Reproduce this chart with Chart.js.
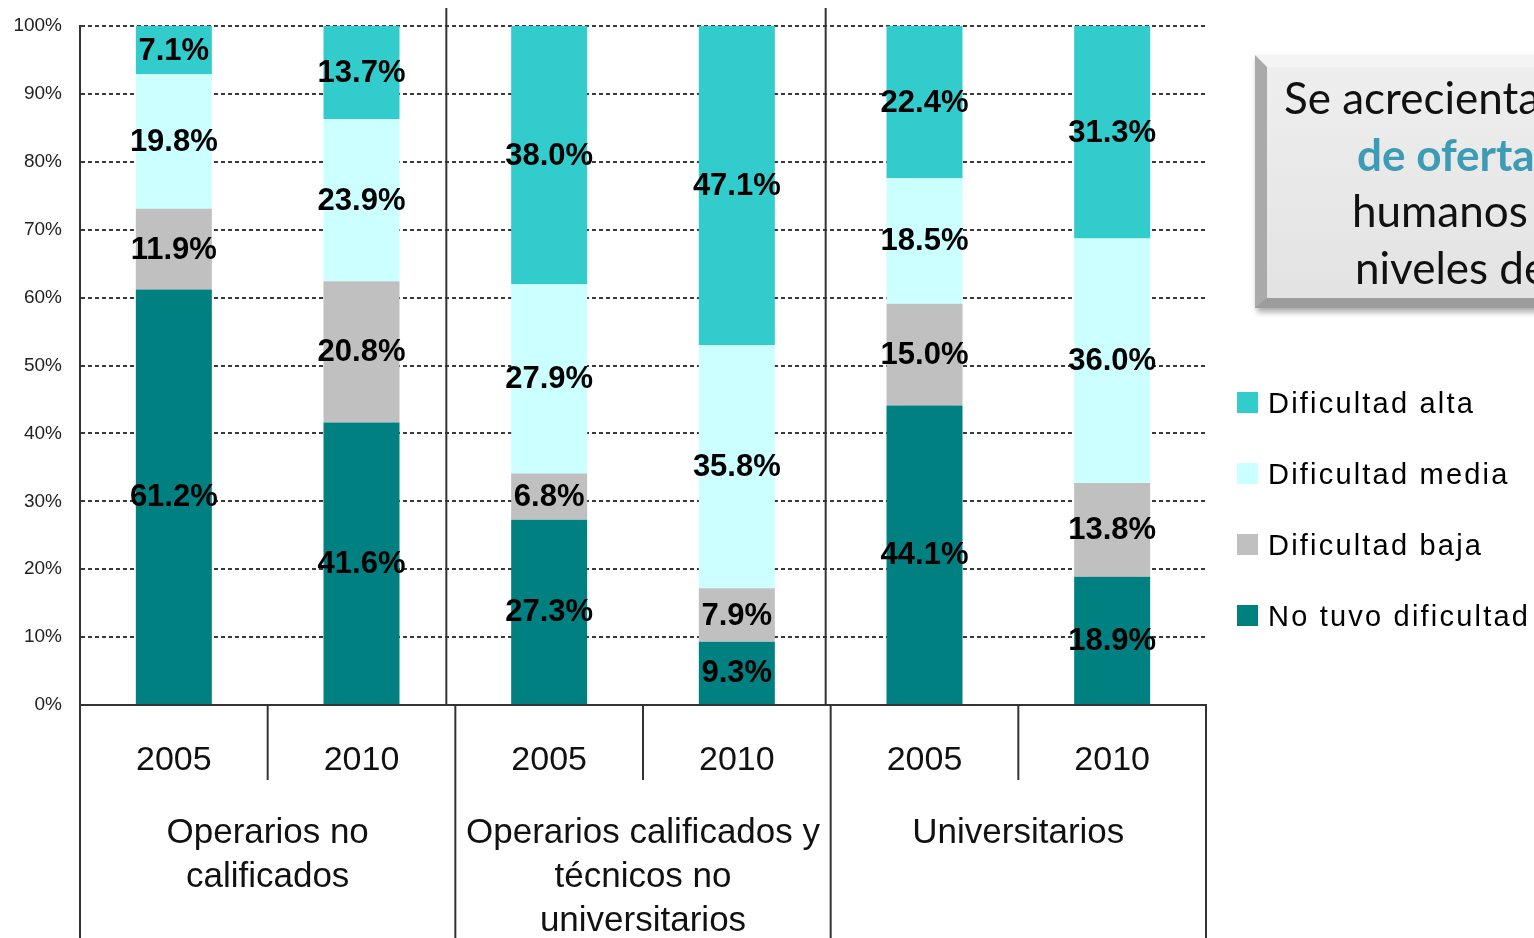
<!DOCTYPE html>
<html lang="es">
<head>
<meta charset="utf-8">
<title>Dificultad para cubrir vacantes</title>
<script src="https://cdn.jsdelivr.net/npm/chart.js@4.4.1/dist/chart.umd.min.js"></script>
<style>
  html, body { margin: 0; padding: 0; background: #fff; overflow: hidden; }
  #wrap { position: relative; width: 1534px; height: 938px; overflow: hidden; }
  #chart-box { position: absolute; left: 0; top: 0; width: 1534px; height: 938px; }
  .callout {
    position: absolute; left: 1255px; top: 55px; width: 420px; height: 253px;
    box-sizing: border-box;
    border-left: 12px solid #aaa; border-top: 12px solid #f4f4f4; border-bottom: 10px solid #9c9c9c;
    background: linear-gradient(180deg, #eeeeee 0%, #e3e3e3 100%);
    box-shadow: 2px 4px 6px rgba(0,0,0,0.35);
  }
  .callout-line {
    position: absolute; white-space: nowrap;
    font-family: Lato, "Open Sans", sans-serif; font-size: 44px; color: #111; line-height: 1;
  }
  .callout-line.hl { color: #3c9cb6; font-weight: bold; }
  .legend { position: absolute; left: 1237px; top: 0; }
  .legend-item { position: absolute; left: 0; white-space: nowrap; height: 40px; }
  .legend-sw { position: absolute; left: 0; top: 9px; width: 21px; height: 21px; }
  .legend-txt {
    position: absolute; left: 31px; top: 0; line-height: 40px;
    font-family: "Liberation Sans", Arial, sans-serif; font-size: 29px; letter-spacing: 2.2px; color: #000;
  }
</style>
</head>
<body>
<div id="wrap">
  <div id="chart-box"><canvas id="chart"></canvas></div>
  <div class="callout"></div>
  <div id="callout-text"></div>
  <div class="legend" id="legend"></div>
</div>
<script>
// ════════════════════════════════════════
//  DATOS
// ════════════════════════════════════════
const years  = ['2005', '2010', '2005', '2010', '2005', '2010'];
const groups = [
  ['Operarios no', 'calificados'],
  ['Operarios calificados y', 'técnicos no', 'universitarios'],
  ['Universitarios']
];
const yTicks = [0, 10, 20, 30, 40, 50, 60, 70, 80, 90, 100];

const noTuvo = [61.2, 41.6, 27.3, 9.3, 44.1, 18.9];
const baja   = [11.9, 20.8, 6.8, 7.9, 15.0, 13.8];
const media  = [19.8, 23.9, 27.9, 35.8, 18.5, 36.0];
const alta   = [7.1, 13.7, 38.0, 47.1, 22.4, 31.3];

const seriesNames  = ['No tuvo dificultad', 'Dificultad baja', 'Dificultad media', 'Dificultad alta'];
const seriesColors = ['#008080', '#c0c0c0', '#ccffff', '#33cccc'];

const calloutLines = [
  { text: 'Se acrecienta', x: 1284, y: 75, hl: false },
  { text: 'de oferta',     x: 1357, y: 132, hl: true },
  { text: 'humanos',       x: 1352, y: 188, hl: false },
  { text: 'niveles de',    x: 1355, y: 245, hl: false }
];

// ════════════════════════════════════════
//  TEXTOS HTML (recuadro + leyenda)
// ════════════════════════════════════════
document.getElementById('callout-text').innerHTML = calloutLines.map(l =>
  `<div class="callout-line${l.hl ? ' hl' : ''}" style="left:${l.x}px;top:${l.y}px">${l.text}</div>`
).join('');

const legendRows = [3, 2, 1, 0];  // de arriba hacia abajo
document.getElementById('legend').innerHTML = legendRows.map((k, i) => `
  <div class="legend-item" style="top:${383 + i * 71}px">
    <div class="legend-sw" style="background:${seriesColors[k]}"></div>
    <div class="legend-txt">${seriesNames[k]}</div>
  </div>`).join('');

// ════════════════════════════════════════
//  PLUGINS
// ════════════════════════════════════════
const FONT = '"Liberation Sans", Arial, sans-serif';

const valueLabels = {
  id: 'valueLabels',
  afterDatasetsDraw(chart) {
    const { ctx } = chart;
    ctx.save();
    ctx.font = `bold 31px ${FONT}`;
    ctx.fillStyle = '#000';
    ctx.textAlign = 'center';
    ctx.textBaseline = 'middle';
    chart.data.datasets.forEach((ds, di) => {
      chart.getDatasetMeta(di).data.forEach((bar, i) => {
        const { x, y, base } = bar.getProps(['x', 'y', 'base'], true);
        ctx.fillText(ds.data[i].toFixed(1) + '%', x, (y + base) / 2 + 1);
      });
    });
    ctx.restore();
  }
};

// tabla del eje X (años + grupos) y separadores verticales
const axisTable = {
  id: 'axisTable',
  afterDraw(chart) {
    const { ctx, chartArea: ca, scales: { x } } = chart;
    const H = chart.height;
    const step = (x.getPixelForValue(1) - x.getPixelForValue(0));
    const edge = i => x.getPixelForValue(0) - step / 2 + i * step;
    ctx.save();
    ctx.strokeStyle = '#333';
    ctx.lineWidth = 2;
    const line = (x1, y1, x2, y2) => { ctx.beginPath(); ctx.moveTo(x1, y1); ctx.lineTo(x2, y2); ctx.stroke(); };

    line(ca.left, ca.bottom, ca.left, H);                 // eje izquierdo prolongado
    [2, 4, 6].forEach(i => line(edge(i), ca.bottom, edge(i), H));
    [1, 3, 5].forEach(i => line(edge(i), ca.bottom, edge(i), ca.bottom + 75));
    // separadores dentro del área de trazado
    [[2, -9], [4, -5]].forEach(([i, d]) => line(edge(i) + d, 8, edge(i) + d, ca.bottom));

    ctx.fillStyle = '#111';
    ctx.textAlign = 'center';
    ctx.textBaseline = 'middle';
    ctx.font = `34px ${FONT}`;
    years.forEach((yr, i) => ctx.fillText(yr, x.getPixelForValue(i), ca.bottom + 56));
    ctx.font = `35px ${FONT}`;
    groups.forEach((g, gi) => {
      const cx = (edge(gi * 2) + edge(gi * 2 + 2)) / 2;
      g.forEach((t, li) => ctx.fillText(t, cx, ca.bottom + 128 + li * 44));
    });
    ctx.restore();
  }
};

// ════════════════════════════════════════
//  GRÁFICO
// ════════════════════════════════════════
const datasets = [noTuvo, baja, media, alta].map((data, k) => ({
  label: seriesNames[k],
  data,
  backgroundColor: seriesColors[k],
  borderWidth: 0,
  barPercentage: 0.405,
  categoryPercentage: 1
}));

new Chart(document.getElementById('chart'), {
  type: 'bar',
  data: { labels: years, datasets },
  plugins: [valueLabels, axisTable],
  options: {
    responsive: true,
    maintainAspectRatio: false,
    animation: false,
    layout: { padding: { left: 0, right: 328, top: 26, bottom: 0 } },
    plugins: { legend: { display: false }, tooltip: { enabled: false } },
    scales: {
      x: {
        stacked: true,
        grid: { display: false },
        ticks: { display: false },
        border: { display: true, color: '#333', width: 2 },
        afterFit: s => { s.height = 233; }
      },
      y: {
        stacked: true,
        min: 0,
        max: 100,
        afterFit: s => { s.width = 80; },
        afterBuildTicks: s => { s.ticks = yTicks.map(v => ({ value: v })); },
        ticks: {
          padding: 18,
          color: '#222',
          font: { family: FONT, size: 19, lineHeight: 0.8 },
          callback: v => v + '%'
        },
        grid: { color: '#3a3a3a', lineWidth: 2, drawTicks: false },
        border: { display: true, color: '#333', width: 2, dash: [4, 3] }
      }
    }
  }
});
</script>
</body>
</html>
